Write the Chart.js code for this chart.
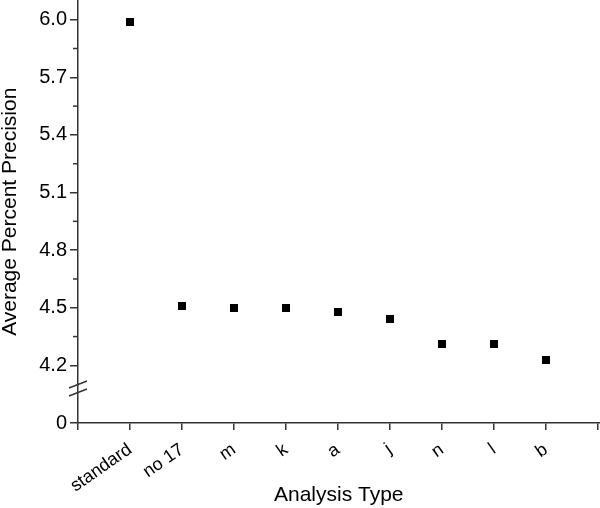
<!DOCTYPE html>
<html>
<head>
<meta charset="utf-8">
<script src="https://cdn.jsdelivr.net/npm/chart.js@4/dist/chart.umd.min.js"></script>
<style>
html, body { margin: 0; padding: 0; background: #fff; }
</style>
</head>
<body>
<canvas id="chart-precisao" width="600" height="508"></canvas>
<script>
let tipos = ["standard", "no 17", "m", "k", "a", "j", "n", "l", "b"]
let precisao = [5.99, 4.51, 4.50, 4.50, 4.48, 4.44, 4.31, 4.31, 4.23]
let y_ticks = [4.2, 4.5, 4.8, 5.1, 5.4, 5.7, 6.0]
let y_zero_label = "0"

// eixo quebrado: o "0" fica um passo abaixo de 4.2
let zero_pos = 3.9
let break_pos = 4.08
let cor_eixo = '#333'
let fonte = 'Liberation Sans, Arial, sans-serif'

let pontos = tipos.map((t, i) => ({ x: i + 1, y: precisao[i] }))

// marcador quadrado 8x8 (imagem, assim o chart nao reserva margem pro raio)
let quadrado = document.createElement('canvas')
quadrado.width = 8
quadrado.height = 8
let qctx = quadrado.getContext('2d')
qctx.fillStyle = '#000'
qctx.fillRect(0, 0, 8, 8)

// tracinhos menores e a quebra do eixo y
const extras = {
  id: 'extras',
  beforeDraw(chart) {
    const c = chart.ctx
    c.save()
    c.fillStyle = '#fff'
    c.fillRect(0, 0, chart.width, chart.height)
    c.restore()
  },
  afterDraw(chart) {
    const c = chart.ctx
    const ys = chart.scales.y
    const ax = chart.chartArea.left
    c.save()
    c.strokeStyle = cor_eixo
    c.lineWidth = 1.5
    for (let i = 0; i < y_ticks.length - 1; i++) {
      const py = ys.getPixelForValue((y_ticks[i] + y_ticks[i + 1]) / 2)
      c.beginPath()
      c.moveTo(ax - 5, py)
      c.lineTo(ax, py)
      c.stroke()
    }
    const by = ys.getPixelForValue(break_pos)
    c.beginPath()
    c.moveTo(ax - 9, by - 0.5)
    c.lineTo(ax + 9, by - 7.5)
    c.moveTo(ax - 9, by + 7.5)
    c.lineTo(ax + 9, by + 0.5)
    c.stroke()
    c.restore()
  }
}

var ctx = document.getElementById('chart-precisao').getContext('2d')

var chart = new Chart(ctx, {
  type: 'scatter',
  data: {
    datasets: [{
      label: 'Average Percent Precision',
      data: pontos,
      pointStyle: quadrado,
      pointRadius: 0.5,
      pointHoverRadius: 0.5,
      backgroundColor: '#000',
      borderWidth: 0,
    }]
  },
  options: {
    responsive: false,
    animation: false,
    events: [],
    layout: { padding: 0 },
    plugins: {
      legend: { display: false },
      tooltip: { enabled: false },
    },
    scales: {
      x: {
        type: 'linear',
        min: 0,
        max: 10.03,
        afterBuildTicks: (s) => {
          s.ticks = []
          for (let i = 0; i <= tipos.length + 1; i++) s.ticks.push({ value: i })
        },
        afterFit: (s) => {
          s.height = 85
          s.paddingLeft = 0
          s.paddingRight = 0
        },
        ticks: {
          autoSkip: false,
          minRotation: 35,
          maxRotation: 35,
          padding: 9,
          color: '#000',
          font: { family: fonte, size: 18 },
          callback: (v) => tipos[v - 1] || '',
        },
        grid: {
          display: true,
          drawOnChartArea: false,
          drawTicks: true,
          tickLength: 7,
          color: cor_eixo,
          lineWidth: 1.5,
        },
        border: { display: true, color: cor_eixo, width: 1.5 },
        title: {
          display: true,
          text: 'Analysis Type',
          color: '#000',
          font: { family: fonte, size: 21, lineHeight: 1 },
          padding: { top: 0, bottom: 2 },
        },
      },
      y: {
        min: zero_pos,
        max: 6.1,
        afterBuildTicks: (s) => {
          s.ticks = [{ value: zero_pos }].concat(y_ticks.map(v => ({ value: v })))
        },
        afterFit: (s) => {
          s.width = 78
          s.paddingTop = 0
          s.paddingBottom = 0
        },
        ticks: {
          autoSkip: false,
          padding: 3,
          color: '#000',
          font: { family: fonte, size: 20 },
          callback: (v) => v === zero_pos ? y_zero_label : v.toFixed(1),
        },
        grid: {
          display: true,
          drawOnChartArea: false,
          drawTicks: true,
          tickLength: 8,
          color: cor_eixo,
          lineWidth: 1.5,
        },
        border: { display: true, color: cor_eixo, width: 1.5 },
        title: {
          display: true,
          text: 'Average Percent Precision',
          color: '#000',
          font: { family: fonte, size: 21, lineHeight: 1 },
          padding: { top: 0, bottom: 0 },
        },
      },
    },
  },
  plugins: [extras],
})
</script>
</body>
</html>
